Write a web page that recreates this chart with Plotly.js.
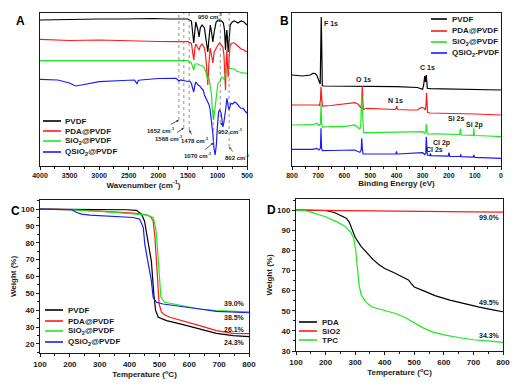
<!DOCTYPE html>
<html><head><meta charset="utf-8">
<script src="https://cdn.plot.ly/plotly-3.0.1.min.js"></script>
<style>html,body{margin:0;padding:0;background:#fff}#plot{width:528px;height:388px}</style>
</head><body><div id="plot"></div>
<script>
// ---------- Panel A: FTIR (wavenumber cm-1, offset transmittance a.u.) ----------
const ftirNames = ['PVDF','PDA@PVDF','SiO<sub>2</sub>@PVDF','QSiO<sub>2</sub>@PVDF'];
const ftirWnPVDF = [4000,3700,3400,3000,2600,2200,2150,2100,1800,1500,1440,1420,1400,1380,1366,1330,1310,1290,1260,1220,1200,1180,1163,1145,1120,1100,1078,1055,1022,990,965,930,900,880,863,850,840,830,818,800,784,750,710,654,600,550,500];
const ftirPVDF   = [150,150.5,151,151,151,151.5,152,151.5,151,151,149,140,127,140,148,140,133,142,145,142,135,125,118,130,145,138,128,138,148,150,150,149,147,140,120,135,140,130,118,132,145,148,149,147,149,148,145];
const ftirWnPDA = [4000,3500,3000,2500,2000,1700,1500,1440,1420,1400,1380,1366,1330,1310,1290,1260,1220,1200,1180,1163,1145,1123,1100,1078,1055,1022,990,965,930,908,890,875,863,850,840,830,818,800,784,750,710,654,600,550,500];
const ftirPDA   = [130.7,129.5,130,129,128.5,128.3,128.3,126.5,120,110,122,126,122,120,124,126,122,115,100,85,105,122,115,107,118,122,125,127,125,123,115,100,80,110,120,105,93,115,125,127,127,124,121,120,118];
const ftirWnSiO2 = [4000,3000,2000,1500,1440,1420,1400,1380,1330,1300,1250,1220,1190,1163,1140,1123,1100,1089,1078,1067,1050,1033,1010,993,970,953,935,920,900,886,875,863,850,829,800,767,740,710,680,654,600,500];
const ftirSiO2   = [109.3,109.5,109.5,109.5,107,104,100,106,106,105,104,102,97,90,92,84,75,63,55,50,57,67,80,86,88,88,92,93,92,90,92,95,100,100,101,101.5,101,101,99,98.5,97.5,96.7];
const ftirWnQSiO2 = [4000,3700,3500,3400,3300,3100,3000,2600,2400,2360,2340,2300,2000,1700,1652,1620,1500,1470,1440,1420,1400,1380,1366,1327,1300,1270,1240,1220,1190,1163,1140,1123,1100,1089,1075,1061,1050,1039,1028,1016,1005,993,980,965,950,937,920,908,890,874,858,840,825,806,790,772,740,710,680,654,610,569,500];
const ftirQSiO2   = [90.7,90,87,84,85,87.5,88.3,89.5,90,86,89.5,90,91.5,91.7,89,90,88.5,89,86.5,82,78,85,88,85,84,81.7,80,75,71,66.7,65,60,50,43,35,23,18,15,20,26.7,40,53,58,60,59,56.7,50,43,48,53,62,71.7,66,60,63,66.7,66,68,67,65,62,61.7,56.7];
const ftirMarkWn = [1652,1568,1478,1070,952,802];
const ftirMarkTop = [157,157,157,60,157,157];
const ftirMarkBottom = [50,42,40,27,47,23];
const ftirLabels = ['1652 cm<sup>-1</sup>','1568 cm<sup>-1</sup>','1478 cm<sup>-1</sup>','1070 cm<sup>-1</sup>','952 cm<sup>-1</sup>','802 cm<sup>-1</sup>'];
const ftirTopLabel = '950 cm<sup>-1</sup>';

// ---------- Panel B: XPS survey (binding energy eV, offset counts a.u.) ----------
const xpsNames = ['PVDF','PDA@PVDF','SiO<sub>2</sub>@PVDF','QSiO<sub>2</sub>-PVDF'];
const xpsBePVDF = [800,760,730,720,712,705,698,692,690,688,686,684,680,600,500,400,320,305,300,296,292,290,289,287,286,284,282,270,200,100,0];
const xpsPVDF   = [95,94,95,96.7,96.5,95,90,86,120,153,120,84.5,84,84,83.5,83.3,82.5,81,80.7,85,94,90,88,92,95,88,81.7,81.3,81,80.7,80];
const xpsBePDA = [800,750,700,695,691,689,687,684,650,600,560,548,540,535,533,531,529,527,515,500,450,405,401,399,397,393,350,320,305,295,290,287,285,283,281,270,200,100,0];
const xpsPDA   = [65,65.2,65,64.5,70,83.3,70,64,64.5,65.7,67.3,66,63,62,70,84,70,60.5,61.7,61.5,61,60.5,62,64,61,60.5,60,60,62.5,62,60,65,77.3,63,57.5,57,56.7,56,55];
const xpsBeSiO2 = [800,740,720,705,697,691,689,687,684,650,600,560,548,540,537,535,533,531,529,526,500,400,300,292,288,286,284,282,250,200,158,156,154,152,106,104,102,100,50,0];
const xpsSiO2   = [45,45,45.3,46.7,44.5,46,66.7,48,43,43.5,43.3,45,42.5,41,44,62,75,60,40,37.3,37.3,37.5,38.3,36.7,38,46,39,36,36.2,35.7,35.5,41.3,35.3,35,34.7,41.7,35,34.5,34,33.3];
const xpsBeQSiO2 = [800,740,720,705,697,691,689,687,684,650,600,560,548,540,535,533,531,528,500,403,400,398,395,320,300,292,288,286,284,282,272,270,268,250,202,199,196,156,154,152,106,104,102,100,50,0];
const xpsQSiO2   = [20.7,20.7,20.7,21.7,20,22,41.7,22,19.3,19.5,19.5,20,18.5,17.7,20,31.7,22,16,16,16,18.7,16,16,16.5,17.3,15.5,17,33.3,24,15,14.5,16.7,14.3,14,13.8,17.3,13.6,13.5,15.7,13.3,12.8,15,13,12.6,12.2,11.7];
const xpsPeakNames = ['F 1s','O 1s','C 1s','N 1s','Si 2s','Si 2p','Cl 2p','Cl 2s'];
const xpsPeakBe = [651,528,283,402,173,103,226,253];
const xpsPeakY  = [147,91,103,70,52,45,27,21];

// ---------- Panel C: TGA of membranes ----------
const tgaCNames = ['PVDF','PDA@PVDF','SiO<sub>2</sub>@PVDF','QSiO<sub>2</sub>@PVDF'];
const tgaCTempPVDF = [100,200,300,390,423,440,450,457,465,473,481,487,496,524,579,635,691,747,800];
const tgaCPVDF     = [100,100,99.8,99.6,99.3,97,93,85,77,69,50,40,35.8,33.8,31.4,28.9,26.3,24.9,24.3];
const tgaCTempPDA = [100,200,300,412,457,470,479,485,490,495,499,507,520,535,579,635,691,747,800];
const tgaCPDA     = [100,99.7,98.8,97.6,96.6,95.5,93,83,69,55,43.7,38.7,37,35.8,33.4,30.8,27.9,26.3,26.1];
const tgaCTempSiO2 = [100,189,301,412,457,479,485,490,495,499,505,518,579,635,691,747,800];
const tgaCSiO2     = [100,99.6,98.6,97.4,96.6,95,91,85,72,59.5,47.6,44.7,42.7,40.7,39.7,39.3,39.0];
const tgaCTempQSiO2 = [100,200,206,223,239,267,301,356,412,434,446,451,457,468,473,479,490,512,579,635,691,747,800];
const tgaCQSiO2     = [100,100,99.6,98,97,96.4,96,95.5,95,94,89,79,73,63,57.5,47.6,44.7,43.7,42.3,40.7,39.3,38.9,38.5];
const tgaCLabels = ['39.0%','38.5%','26.1%','24.3%'];
const tgaCLabelY = [43.7,35.4,28.8,21.1];

// ---------- Panel D: TGA of components ----------
const tgaDNames = ['PDA','SiO2','TPC'];
const tgaDTempPDA = [100,150,200,230,250,270,280,290,300,320,340,360,380,400,430,460,480,490,500,530,570,620,670,720,770,800];
const tgaDPDA     = [100,100,99.8,98.8,97.5,96,94,90,86.5,82,78.5,75.5,73,71,69,67,65.3,63.5,61.8,60,57.5,55.3,53.5,51.8,50.3,49.5];
const tgaDTempSiO2 = [100,200,300,400,500,600,700,800];
const tgaDSiO2     = [100,99.8,99.6,99.5,99.4,99.2,99.1,99.0];
const tgaDTempTPC = [100,130,150,200,240,265,285,295,302,308,313,320,335,355,400,440,470,500,530,560,600,650,700,750,800];
const tgaDTPC     = [100,99.8,99,96.7,94,92,89,86,80,72,63,58,54.5,52,50.3,48.5,46.5,44,41.5,39.5,38,36.7,35.6,35,34.3];
const tgaDLabels = ['99.0%','49.5%','34.3%'];
const tgaDLabelY = [96.1,54.3,37.5];

const colors4 = ['#000000','#ff1a1a','#1ee81e','#1a1aff'];
const colorsD = ['#000000','#ff1a1a','#1ee81e'];

// ---------- build ----------
const W = 528, H = 388;
const FONT = 'Liberation Sans, Arial, sans-serif';
const fx = p => p / W, fy = p => 1 - p / H;

function tr(x, y, c, xa, ya){
  return {x:x, y:y, mode:'lines', type:'scatter', line:{color:c, width:1.2}, xaxis:xa, yaxis:ya, showlegend:false, hoverinfo:'skip'};
}
const data = [
  tr(ftirWnPVDF, ftirPVDF, colors4[0], 'x','y'),
  tr(ftirWnPDA, ftirPDA, colors4[1], 'x','y'),
  tr(ftirWnSiO2, ftirSiO2, colors4[2], 'x','y'),
  tr(ftirWnQSiO2, ftirQSiO2, colors4[3], 'x','y'),
  tr(xpsBePVDF, xpsPVDF, colors4[0], 'x2','y2'),
  tr(xpsBePDA, xpsPDA, colors4[1], 'x2','y2'),
  tr(xpsBeSiO2, xpsSiO2, colors4[2], 'x2','y2'),
  tr(xpsBeQSiO2, xpsQSiO2, colors4[3], 'x2','y2'),
  tr(tgaCTempPVDF, tgaCPVDF, colors4[0], 'x3','y3'),
  tr(tgaCTempPDA, tgaCPDA, colors4[1], 'x3','y3'),
  tr(tgaCTempSiO2, tgaCSiO2, colors4[2], 'x3','y3'),
  tr(tgaCTempQSiO2, tgaCQSiO2, colors4[3], 'x3','y3'),
  tr(tgaDTempPDA, tgaDPDA, colorsD[0], 'x4','y4'),
  tr(tgaDTempSiO2, tgaDSiO2, colorsD[1], 'x4','y4'),
  tr(tgaDTempTPC, tgaDTPC, colorsD[2], 'x4','y4')
];

const DARK = '#1a1a1a';
const tickFontS = {family:FONT, size:7, color:DARK, weight:'bold'};
const tickFontL = {family:FONT, size:8, color:DARK, weight:'bold'};
const titleFont = {family:FONT, size:8, color:DARK, weight:'bold'};
function xax(dom, range, dtick, title, anchor, tf){
  return {domain:dom, range:range, anchor:anchor, dtick:dtick, tick0:0, ticks:'outside', ticklen:3, tickwidth:1, tickcolor:DARK,
    minor:{ticks:'outside', ticklen:2, dtick:dtick/2, tickcolor:DARK},
    showline:true, linecolor:DARK, linewidth:1, mirror:true, showgrid:false, zeroline:false,
    tickfont:tf, title:{text:title, font:titleFont, standoff:0}, automargin:false};
}
function yaxBlank(dom, range, anchor){
  return {domain:dom, range:range, anchor:anchor, showticklabels:false, ticks:'', showline:true, linecolor:DARK, linewidth:1, mirror:true, showgrid:false, zeroline:false};
}
function yaxW(dom, range, anchor){
  return {domain:dom, range:range, anchor:anchor, dtick:10, tick0:0, ticks:'outside', ticklen:3, tickwidth:1, tickcolor:DARK,
    minor:{ticks:'outside', ticklen:2, dtick:5, tickcolor:DARK},
    showline:true, linecolor:DARK, linewidth:1, mirror:true, showgrid:false, zeroline:false,
    tickfont:tickFontL, title:{text:'Weight (%)', font:titleFont, standoff:3}, automargin:false};
}

const shapes = [], annotations = [];
// dashed marker lines in A
ftirMarkWn.forEach((w,i)=>{
  shapes.push({type:'line', xref:'x', yref:'y', x0:w, x1:w, y0:ftirMarkBottom[i], y1:ftirMarkTop[i], line:{color:'#777', width:0.8, dash:'dot'}});
});
const labelOff = [[-18,10],[-15,10],[6,10],[-15,12],[10,8],[8,10]];
const smallFont = {family:FONT, size:6, color:DARK, weight:'bold'};
const labFont = {family:FONT, size:7, color:DARK, weight:'bold'};
ftirLabels.forEach((t,i)=>{
  annotations.push({xref:'x', yref:'y', x:ftirMarkWn[i], y:ftirMarkBottom[i], text:t, showarrow:true, arrowhead:2, arrowsize:0.6, arrowwidth:0.8, arrowcolor:'#333',
    ax:labelOff[i][0], ay:labelOff[i][1], font:smallFont});
});
annotations.push({xref:'x', yref:'y', x:940, y:148, text:ftirTopLabel, showarrow:true, arrowhead:2, arrowsize:0.6, arrowwidth:0.8, arrowcolor:'#333', ax:-10, ay:-6, font:smallFont});
// XPS peak labels
xpsPeakNames.forEach((t,i)=>{
  annotations.push({xref:'x2', yref:'y2', x:xpsPeakBe[i], y:xpsPeakY[i], text:t, showarrow:false, font:labFont});
});
// TGA end labels
tgaCLabels.forEach((t,i)=>{
  annotations.push({xref:'x3', yref:'y3', x:753, y:tgaCLabelY[i], text:t, showarrow:false, font:labFont});
});
tgaDLabels.forEach((t,i)=>{
  annotations.push({xref:'x4', yref:'y4', x:753, y:tgaDLabelY[i], text:t, showarrow:false, font:labFont});
});
// manual legends (pixel layout)
function legend(names, cols, x0, x1, xt, rows){
  names.forEach((n,i)=>{
    shapes.push({type:'line', xref:'paper', yref:'paper', x0:fx(x0), x1:fx(x1), y0:fy(rows[i]), y1:fy(rows[i]), line:{color:cols[i], width:1.6}});
    annotations.push({xref:'paper', yref:'paper', x:fx(xt), y:fy(rows[i]), xanchor:'left', yanchor:'middle', text:n, showarrow:false, font:{family:FONT, size:8, color:DARK, weight:'bold'}});
  });
}
legend(ftirNames, colors4, 43, 61, 63, [121,131,141,152]);
legend(xpsNames, colors4, 431, 447, 450, [19,31,42,53]);
legend(tgaCNames, colors4, 45, 63, 66, [310,321,331,342]);
legend(tgaDNames, colorsD, 299, 317, 320, [322,331,340]);
// panel letters
[['A',20,21],['B',284,21],['C',15,211],['D',271,210]].forEach(l=>{
  annotations.push({xref:'paper', yref:'paper', x:fx(l[1]), y:fy(l[2]), text:'<b>'+l[0]+'</b>', showarrow:false, xanchor:'center', yanchor:'middle', font:{family:FONT, size:12, color:'#000'}});
});

const layout = {
  width:W, height:H, margin:{l:0,r:0,t:0,b:0}, paper_bgcolor:'#fff', plot_bgcolor:'#fff', showlegend:false,
  font:{family:FONT, color:DARK},
  xaxis: xax([fx(40),fx(247)], [4000,500], 500, 'Wavenumber (cm<sup>-1</sup>)', 'y', tickFontS),
  yaxis: yaxBlank([fy(166),fy(12.5)], [4,157.5], 'x'),
  xaxis2: xax([fx(292),fx(501)], [800,0], 100, 'Binding Energy (eV)', 'y2', tickFontS),
  yaxis2: yaxBlank([fy(166),fy(12.5)], [4,157.5], 'x2'),
  xaxis3: xax([fx(40),fx(249)], [100,800], 100, 'Temperature (<sup>o</sup>C)', 'y3', tickFontL),
  yaxis3: yaxW([fy(353),fy(200)], [14.6,105.4], 'x3'),
  xaxis4: xax([fx(296),fx(503)], [100,800], 100, 'Temperature (<sup>o</sup>C)', 'y4', tickFontL),
  yaxis4: yaxW([fy(351),fy(199)], [30,105.5], 'x4'),
  shapes:shapes, annotations:annotations
};
Plotly.newPlot('plot', data, layout, {staticPlot:true, displayModeBar:false});
</script></body></html>
